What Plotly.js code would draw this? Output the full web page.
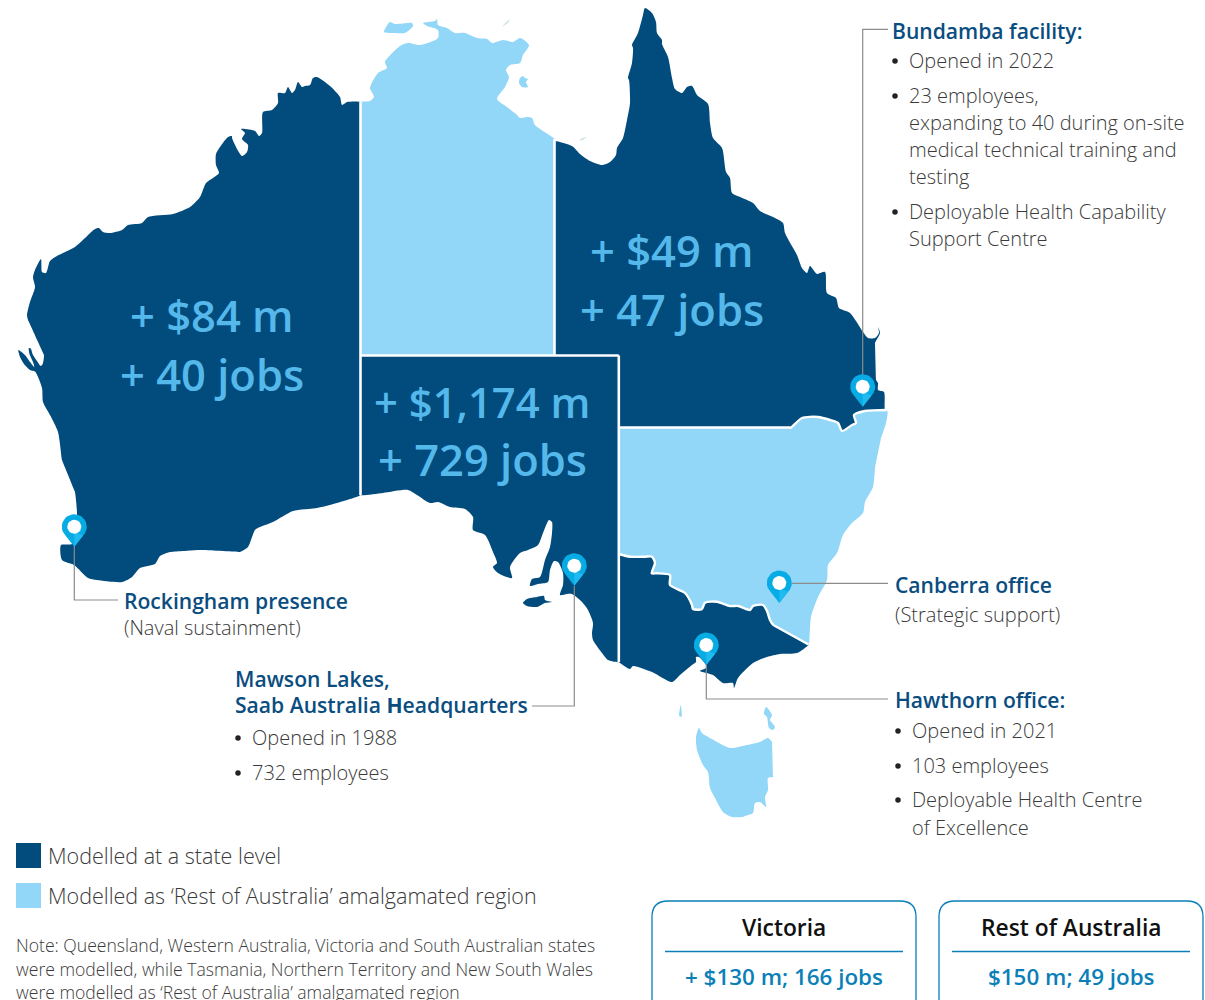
<!DOCTYPE html>
<html><head><meta charset="utf-8">
<script src="https://cdn.plot.ly/plotly-3.0.1.min.js"></script>
<style>html,body{margin:0;padding:0;background:#fff}#c{width:1205px;height:1000px}</style>
</head><body><div id="c"></div>
<script>
// Regions, in picture units.
const nswVicBorder=[[618.8,554],[630,556.7],[645,556.7],[652,556.7],[655,563],[651.7,573.3],[656.7,573.3],[670,575],[670,585],[685,593],[692,605],[693,609],[701.7,609.3],[705,602.7],[717,601.7],[730,606],[738.3,606],[750,610],[753,606],[763,605],[767,611],[770,620],[773.3,625],[808.5,644.5]];
const qldNswBorder=[[618.8,427.5],[791,427.5],[802,418],[818,417],[830,420],[838,423],[842,431],[852,425],[856,423],[854,415],[865,411],[887,410]];
const waOutline=[[360.5,102],[347,102],[342,105],[340,97],[330,86],[317,77],[313,78],[310,85],[305,86],[302,87],[298,82],[295,90],[292,93],[288,87],[285,93],[278,93],[278,103],[272,110],[263,112],[262,133],[259,136],[255,131],[241,129],[245,133],[242,139],[248,145],[247,152],[242,156],[232,138],[232,136],[228,137],[220,147],[216,154],[216,165],[219,173],[213,178],[206,183],[200,197],[190,207],[173,214],[148,217],[142,223],[128,225],[122,230],[110,233],[103,232],[99,228],[95,229],[75,247],[57,256],[50,261],[46,273],[42,272],[41,259],[35,270],[33,277],[35,287],[30,302],[27,315],[28,320],[44,355],[42.7,364],[40.7,366],[37,361],[33,355],[30.7,348.5],[28.8,348],[29.5,354],[33,362],[34.3,367],[30,362],[25,355],[18.3,350],[20,357],[24,364],[30,370],[35,371.5],[42,388],[43,402],[50,415],[58,432],[62,460],[75,492],[77,513],[76,530],[72,544],[61,545],[62,560],[74,565],[88,578],[97,580],[122,582],[132,577],[140,568],[155,564],[160,556],[170,552],[200,550],[240,552],[248,547],[255,530],[260,527],[273,522],[293,511],[317,508],[337,503],[360.5,495]];
const ntOutline=[[360.5,102],[370,101],[374,97],[370,88],[378,73],[387,68],[385,62],[400,46],[408,43],[420,45],[433,41],[438,38],[438,30],[427,26],[423,23],[435,21],[437,19],[438,25],[447,28],[455,33],[465,33],[477,38],[487,39],[492,43],[503,40],[513,42],[520,38],[529,45],[523,55],[520,63],[510,65],[506,70],[509,77],[505,87],[497,99],[507,107],[517,115],[520,118],[527,117],[532,118],[535,125],[554.5,139],[554.5,355.5],[360.5,355.5]];
const melvilleIsland=[[384,32],[390,22],[395,24],[412,23],[413,26],[405,33],[395,33]];
const grooteIsland=[[523,76],[525,78],[528,79],[526,82],[528,87],[522,87],[519,83],[520,78]];
const tinyIslandA=[[502,27],[505,23],[510,19],[508,23]];
const tinyIslandB=[[579,141],[582,138],[587,137],[583,140]];
const qldCoast=[[554.5,141],[572,146],[580,154],[590,161],[602,165],[610,162],[616,155],[617,148],[623,138],[627,120],[630,103],[629,80],[628,78],[632,63],[633,48],[632,45],[638,33],[643,15],[645,8],[652,13],[656,22],[657,33],[662,40],[662,44],[668,57],[672,78],[675,89],[682,93],[687,87],[692,86],[697,95],[708,104],[710,123],[713,138],[722,148],[726,172],[730,178],[732,193],[740,197],[753,203],[760,211],[773,217],[783,223],[785,233],[797,255],[802,268],[807,273],[810,266],[817,274],[825,272],[827,293],[836,298],[839,308],[850,313],[863,332],[868,338],[875,338],[879,333],[878,327],[880,333],[875,343],[876,380],[878,383],[878,390],[884,392],[885,410]];
const saOutline=[[360.5,355.5],[618.8,355.5],[618.8,662],[608,660],[602,653],[593,640],[592,633],[593,623],[588,610],[582,602],[572,594],[567,594],[560,595],[563,585],[563,573],[558,562],[554,561],[550,570],[548,582],[538,584],[530,586],[532,579],[540,577],[545,560],[550,547],[552,533],[552,522],[549,520],[543,533],[538,545],[528,550],[520,553],[510,567],[512,578],[498,573],[493,567],[497,563],[493,552],[485,535],[473,530],[473,517],[465,509],[450,507],[438,502],[430,503],[417,495],[408,490],[383,493],[360.5,495]];
const kangarooIsland=[[523,603],[527,599],[537,597],[544,596],[545,600],[552,602],[545,603],[537,607],[527,606]];
const nswCoast=[[886,423],[881,438],[875,468],[873,487],[865,502],[863,513],[852,523],[843,535],[837,553],[828,565],[827,580],[818,597],[811,617],[809,644]];
const vicCoast=[[808.5,645],[797,653],[780,654],[767,657],[753,663],[738,678],[734,688],[733,683],[723,683],[713,675],[700,671],[706,668],[706,665],[699,657],[696,657],[696,662],[692,665],[680,675],[672,682],[652,672],[633,666],[630,669],[620,663],[618.8,662]];
const tasmaniaOutline=[[699,728],[702,733],[712,739],[730,748],[747,745],[760,742],[768,738],[772,742],[773,777],[768,778],[768,790],[765,797],[766,807],[760,802],[755,803],[753,813],[748,815],[742,817],[732,817],[723,812],[715,798],[710,788],[708,772],[703,765],[697,750],[696,737]];
const kingIsland=[[680.7,705],[681.7,716.7],[679.3,716],[680,708]];
const flindersIsland=[[766,707],[772,715],[770,720],[775,727],[773,730],[769,728],[767,717],[764,714]];

const stateDividers=[
 [[360.5,102],[360.5,495]],
 [[554.5,139],[554.5,355.5]],
 [[360.5,355.5],[618.8,355.5]],
 [[618.8,355.5],[618.8,662]]];

const pinNames=['Rockingham','Mawson Lakes','Bundamba','Canberra','Hawthorn'];
const pinX=[74.3,574.3,862.7,779.3,706.3];
const pinTipY=[546.7,585.7,406.7,603,665];

const leaderLines=[
 [[862.7,375],[862.7,29.3],[888,29.3]],
 [[74.3,546],[74.3,600],[118,600]],
 [[574.3,586],[574.3,706],[532,706]],
 [[792,583.3],[888,583.3]],
 [[706.3,665],[706.3,699],[888,699]]];

const bigLabels=[['+ $84 m',212,315],['+ 40 jobs',212,374],['+ $1,174 m',482,401],['+ 729 jobs',482,459],['+ $49 m',672,250],['+ 47 jobs',672,309]];
const headings=[['Bundamba facility:',892,30],['Canberra office',895,584],['Hawthorn office:',895,699],['Rockingham presence',124,600],['Mawson Lakes,',235,678],['Saab Australia <b>H</b>eadquarters',235,704]];
const bodyLines=[['Opened in 2022',909,60],['23 employees,',909,95],['expanding to 40 during on-site',909,122],['medical technical training and',909,149],['testing',909,176],['Deployable Health Capability',909,211],['Support Centre',909,238],['(Strategic support)',895,614],['Opened in 2021',912,730],['103 employees',912,765],['Deployable Health Centre',912,799],['of Excellence',912,827],['(Naval sustainment)',124,627],['Opened in 1988',252,737],['732 employees',252,772]];
const bulletPoints=[[895,61],[895,96],[895,212],[898,731],[898,766],[898,800],[238,738],[238,773]];
const legendLabels=['Modelled at a state level','Modelled as ‘Rest of Australia’ amalgamated region'];
const legendY=[856,896];
const noteLines=['Note: Queensland, Western Australia, Victoria and South Australian states','were modelled, while Tasmania, Northern Territory and New South Wales','were modelled as ‘Rest of Australia’ amalgamated region'];
const noteY=[945,968.5,991.5];
const boxTitles=['Victoria','Rest of Australia'];
const boxValues=['+ $130 m; 166 jobs','$150 m; 49 jobs'];
const boxLeft=[652,939];

const DARK='#014b7d', LIGHT='#92d7f7', FONT='"Open Sans", sans-serif', BODY='#3a3a3a';
// keep long straight edges straight under spline smoothing
function pin2(pts){const o=[];pts.forEach((p,i)=>{const q=pts[i+1];o.push(p);if(q){const d=Math.hypot(q[0]-p[0],q[1]-p[1]);if(d>30){const k=1.5/d;o.push([p[0]+(q[0]-p[0])*k,p[1]+(q[1]-p[1])*k],[q[0]-(q[0]-p[0])*k,q[1]-(q[1]-p[1])*k]);}}});return o;}
function poly(pts,color,smooth){const c=pts.concat([pts[0]]);const s=smooth?pin2(c):c;return {x:s.map(p=>p[0]),y:s.map(p=>p[1]),mode:'lines',fill:'toself',fillcolor:color,line:smooth?{width:0,color:color,shape:'spline',smoothing:0.7}:{width:0,color:color},hoverinfo:'skip',showlegend:false};}
function stroke(pts,color,width,smooth){const s=smooth?pin2(pts):pts;return {x:s.map(p=>p[0]),y:s.map(p=>p[1]),mode:'lines',line:smooth?{color,width,shape:'spline',smoothing:0.7}:{color,width},hoverinfo:'skip',showlegend:false};}
const vicOutline=[...nswVicBorder,...vicCoast];
const nswOutline=[...qldNswBorder,...nswCoast,...nswVicBorder.slice().reverse()];
const qldOutline=[...qldCoast,...qldNswBorder.slice().reverse(),[618.8,355.5],[554.5,355.5]];
const traces=[
 poly(ntOutline,LIGHT,true),poly(nswOutline,LIGHT,true),
 poly(waOutline,DARK,true),poly(qldOutline,DARK,true),poly(saOutline,DARK,true),poly(vicOutline,DARK,true),
 poly(kangarooIsland,DARK,true),poly(melvilleIsland,LIGHT,true),poly(grooteIsland,LIGHT,true),poly(tasmaniaOutline,LIGHT,true),poly(kingIsland,LIGHT,true),poly(flindersIsland,LIGHT,true),
 poly(tinyIslandA,'#cfe8d8'),poly(tinyIslandB,'#cfe8d8')];
stateDividers.forEach(l=>traces.push(stroke(l,'#fff',2.6)));
traces.push(stroke(qldNswBorder,'#fff',2.4,true),stroke(nswVicBorder,'#fff',2.4,true));
leaderLines.forEach(l=>traces.push(stroke(l,'#8c8c8c',1.2)));
function circle(cx,cy,r,a0,a1){const o=[];for(let i=0;i<=24;i++){const a=a0+(a1-a0)*i/24;o.push([cx+r*Math.cos(a),cy+r*Math.sin(a)]);}return o;}
pinX.forEach((x,i)=>{
 const t=pinTipY[i],cy=t-20,r=12.5;
 traces.push(poly([...circle(x,cy,r,Math.PI*0.75,Math.PI*2.25),[x,t]],'#07ace4'));
 traces.push(poly([[x,t],[x+r*0.707,cy+r*0.707],[x,cy+r*0.4]],'#20b9f0'));
 traces.push(poly(circle(x,cy,7,0,Math.PI*2),'#ffffff'));
});
traces.push({x:[28.5,28.5],y:legendY.map(v=>v-0.5),mode:'markers',marker:{symbol:'square',size:25,color:[DARK,LIGHT]},hoverinfo:'skip',showlegend:false});
traces.push({x:bulletPoints.map(p=>p[0]),y:bulletPoints.map(p=>p[1]),mode:'markers',marker:{symbol:'circle',size:5.5,color:'#222'},hoverinfo:'skip',showlegend:false});

const ann=[];
function t(text,x,y,size,color,weight,anchor){ann.push({text,x,y,xref:'x',yref:'y',showarrow:false,xanchor:anchor||'left',yanchor:'middle',font:{family:FONT,size,color,weight},borderpad:0,borderwidth:0});}
bigLabels.forEach(b=>t(b[0],b[1],b[2],b[0].includes(',')?41.8:43.5,'#55b8ea',600,'center'));
headings.forEach(h=>t(h[0],h[1],h[2],21.1,'#0a4d80',600));
bodyLines.forEach(b=>t(b[0],b[1],b[2],20,BODY,300));
legendLabels.forEach((s,i)=>t(s,48,legendY[i]-1,21.5,BODY,300));
noteLines.forEach((s,i)=>t(s,16,noteY[i],17.6,BODY,300));
const shapes=[];
boxLeft.forEach((x,i)=>{
 const w=264,y0=901,y1=1015,r=16,c='#0b7fb8';
 shapes.push({type:'path',layer:'above',line:{color:c,width:1.3},path:`M${x+r},${y0} H${x+w-r} Q${x+w},${y0} ${x+w},${y0+r} V${y1-r} Q${x+w},${y1} ${x+w-r},${y1} H${x+r} Q${x},${y1} ${x},${y1-r} V${y0+r} Q${x},${y0} ${x+r},${y0} Z`});
 shapes.push({type:'line',x0:x+13,x1:x+251,y0:951.5,y1:951.5,line:{color:c,width:1.3}});
 t(boxTitles[i],x+132,927,22.8,'#111',600,'center');
 t(boxValues[i],x+132,976.5,22.4,'#0b7fb8',600,'center');
});
const ax={range:[0,1205],visible:false,fixedrange:true};
Plotly.newPlot('c',traces,{width:1205,height:1000,margin:{l:0,r:0,t:0,b:0,pad:0},paper_bgcolor:'#fff',plot_bgcolor:'#fff',showlegend:false,
 xaxis:ax,yaxis:{range:[1000,0],visible:false,fixedrange:true},annotations:ann,shapes:shapes,font:{family:FONT}},{staticPlot:true,displayModeBar:false});
</script></body></html>
